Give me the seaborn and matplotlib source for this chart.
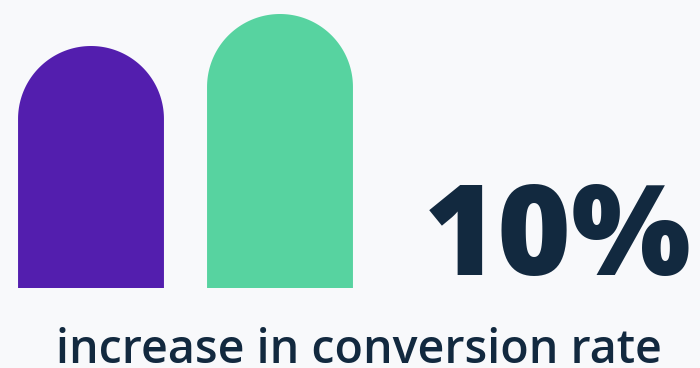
import numpy as np
import pandas as pd
import matplotlib
matplotlib.use("Agg")
import matplotlib.pyplot as plt
from matplotlib.path import Path
from matplotlib.patches import PathPatch
import seaborn as sns

# data
groups = ["Before", "After"]
values = [242, 274]
colors = ["#531EAE", "#57D3A0"]
headline = "10%"
caption = "increase in conversion rate"

BG = "#F8F9FB"
NAVY = "#12293F"

sns.set_theme(style="white")
plt.rcParams["font.family"] = ["Open Sans", "DejaVu Sans"]

fig = plt.figure(figsize=(7, 3.68), dpi=100, facecolor=BG)
ax = fig.add_axes([0, 0, 1, 1])
ax.set_facecolor(BG)

df = pd.DataFrame({"group": groups, "value": values})
sns.barplot(data=df, x="group", y="value", hue="group", palette=colors,
            width=0.772, legend=False, ax=ax, saturation=1)

ax.set_xlim(-91 / 189, (700 - 91) / 189)
ax.set_ylim(-80, 288)
fig.canvas.draw()

to_px = ax.transData
inv = ax.transData.inverted()
for p in list(ax.patches):
    x0, w, h = p.get_x(), p.get_width(), p.get_height()
    fc = p.get_facecolor()
    px0 = to_px.transform((x0, 0))
    px1 = to_px.transform((x0 + w, 0))
    r_px = (px1[0] - px0[0]) / 2
    ry = inv.transform((0, px0[1] + r_px))[1] - inv.transform((0, px0[1]))[1]
    rx = w / 2
    cx = x0 + rx
    cy = h - ry
    th = np.linspace(0, np.pi, 100)
    verts = [(x0, 0), (x0 + w, 0), (x0 + w, cy)]
    verts += [(cx + rx * np.cos(t), cy + ry * np.sin(t)) for t in th]
    verts += [(x0, cy), (x0, 0)]
    codes = [Path.MOVETO] + [Path.LINETO] * (len(verts) - 2) + [Path.CLOSEPOLY]
    ax.add_patch(PathPatch(Path(verts, codes), facecolor=fc, edgecolor="none"))
    p.remove()

ax.set_axis_off()

fig.text(558 / 700, 1 - 275 / 368, headline, ha="center", va="baseline",
         fontsize=91, fontweight=800, color=NAVY)
fig.text(359 / 700, 1 - 363 / 368, caption, ha="center", va="baseline",
         fontsize=33.5, fontweight=600, color=NAVY)

fig.savefig("out.png", dpi=100, facecolor=BG)
